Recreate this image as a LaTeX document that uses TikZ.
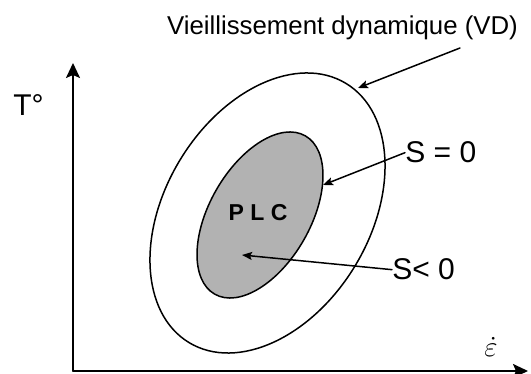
\documentclass[tikz,border=0pt]{standalone}
\usepackage{amsmath,amssymb}
\usepackage{fontspec}
\setmainfont{Liberation Sans}
\usepackage{tikz}
\usetikzlibrary{arrows.meta,calc,positioning}
\tikzset{
  axis/.style={line width=1pt, -{Stealth[length=7.5pt, width=7pt, inset=1.5pt]}},
  ptr/.style={line width=0.75pt, -{Stealth[length=5pt, width=4pt, inset=1pt]}},
  zone/.style={line width=0.75pt},
  lbl/.style={inner sep=0pt, font=\fontsize{15}{18}\selectfont},
  every picture/.style={line cap=round, line join=round}
}

\begin{document}
\begin{tikzpicture}[x=0.5pt, y=0.5pt]
  \useasboundingbox (0,0) rectangle (531,374);

  \coordinate (o) at (73,3);
  \coordinate (ytop) at (73,311);
  \coordinate (xend) at (528,3);
  \draw[axis] (o)--(ytop);
  \draw[axis] (o)--(xend);

  \draw[zone] (267.5,161) ellipse[x radius=151.5, y radius=102.3, rotate=58.8];
  \draw[zone, fill=gray!60] (260,159) ellipse[x radius=91.2, y radius=50.4, rotate=60.2];

  \node[lbl, anchor=base west] (temp) at (13,258) {T°};
  \node[inner sep=0pt, anchor=base, font=\fontsize{15}{17}\selectfont] (rate) at (491,17) {$\dot{\varepsilon}$};
  \node[inner sep=0pt, anchor=base, font=\fontsize{12.9}{15}\selectfont] (vd) at (342.5,339) {Vieillissement dynamique (VD)};
  \node[lbl, anchor=base west] (szero) at (405,211) {S = 0};
  \node[lbl, anchor=base west] (sneg) at (392,94) {S< 0};
  \node[inner sep=0pt, anchor=base, font=\fontsize{11.5}{14}\bfseries] (plc) at (258,153) {P L C};

  \coordinate (vdfrom) at (460,326);
  \coordinate (vdtip) at (358,286);
  \coordinate (szerotip) at (323,189);
  \coordinate (snegtip) at (242,119);
  \draw[ptr] (vdfrom)--(vdtip);
  \draw[ptr] (szero.west)--(szerotip);
  \draw[ptr] (sneg.west)--(snegtip);
\end{tikzpicture}
\end{document}
